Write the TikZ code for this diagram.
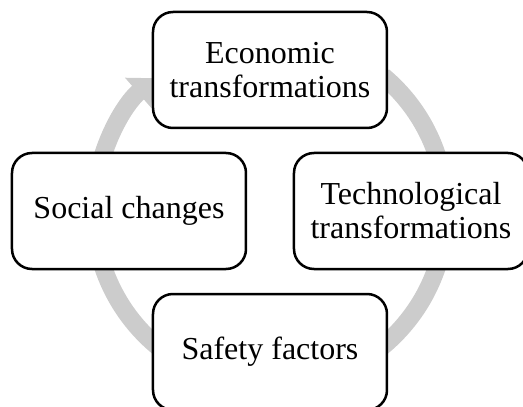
\documentclass[tikz,border=0pt]{standalone}
\usepackage{fontspec}
\setmainfont{Liberation Serif}
\usetikzlibrary{positioning, arrows.meta}
\tikzset{
    x=1pt, y=1pt, % one unit is one pixel of the layout
    node distance=141pt, % distance from the centre to each box
    box/.style={draw, line width=2.5pt, rounded corners=20pt, fill=white,
        minimum width=234pt, minimum height=116pt, align=center,
        font=\fontsize{32}{34}\selectfont}, % the four rounded boxes
    ring/.style={draw=gray!40, line width=18pt,
        -{Triangle[width=38pt, length=22pt]}}, % the big circular arrow behind
}

\begin{document}
\begin{tikzpicture}
            \useasboundingbox (-270,-196) rectangle (253,211);
            \coordinate (c) at (0,0);

            % circular arrow first, so the boxes hide it
            \draw[ring] (c) ++(50:176) arc[start angle=50, end angle=-229, radius=176];

            \node[box, above of=c] (eco) {Economic\\transformations};
            \node[box, right of=c] (tech) {Technological\\transformations};
            \node[box, below of=c] (safe) {Safety factors};
            \node[box, left of=c] (soc) {Social changes};

        \end{tikzpicture}
\end{document}
